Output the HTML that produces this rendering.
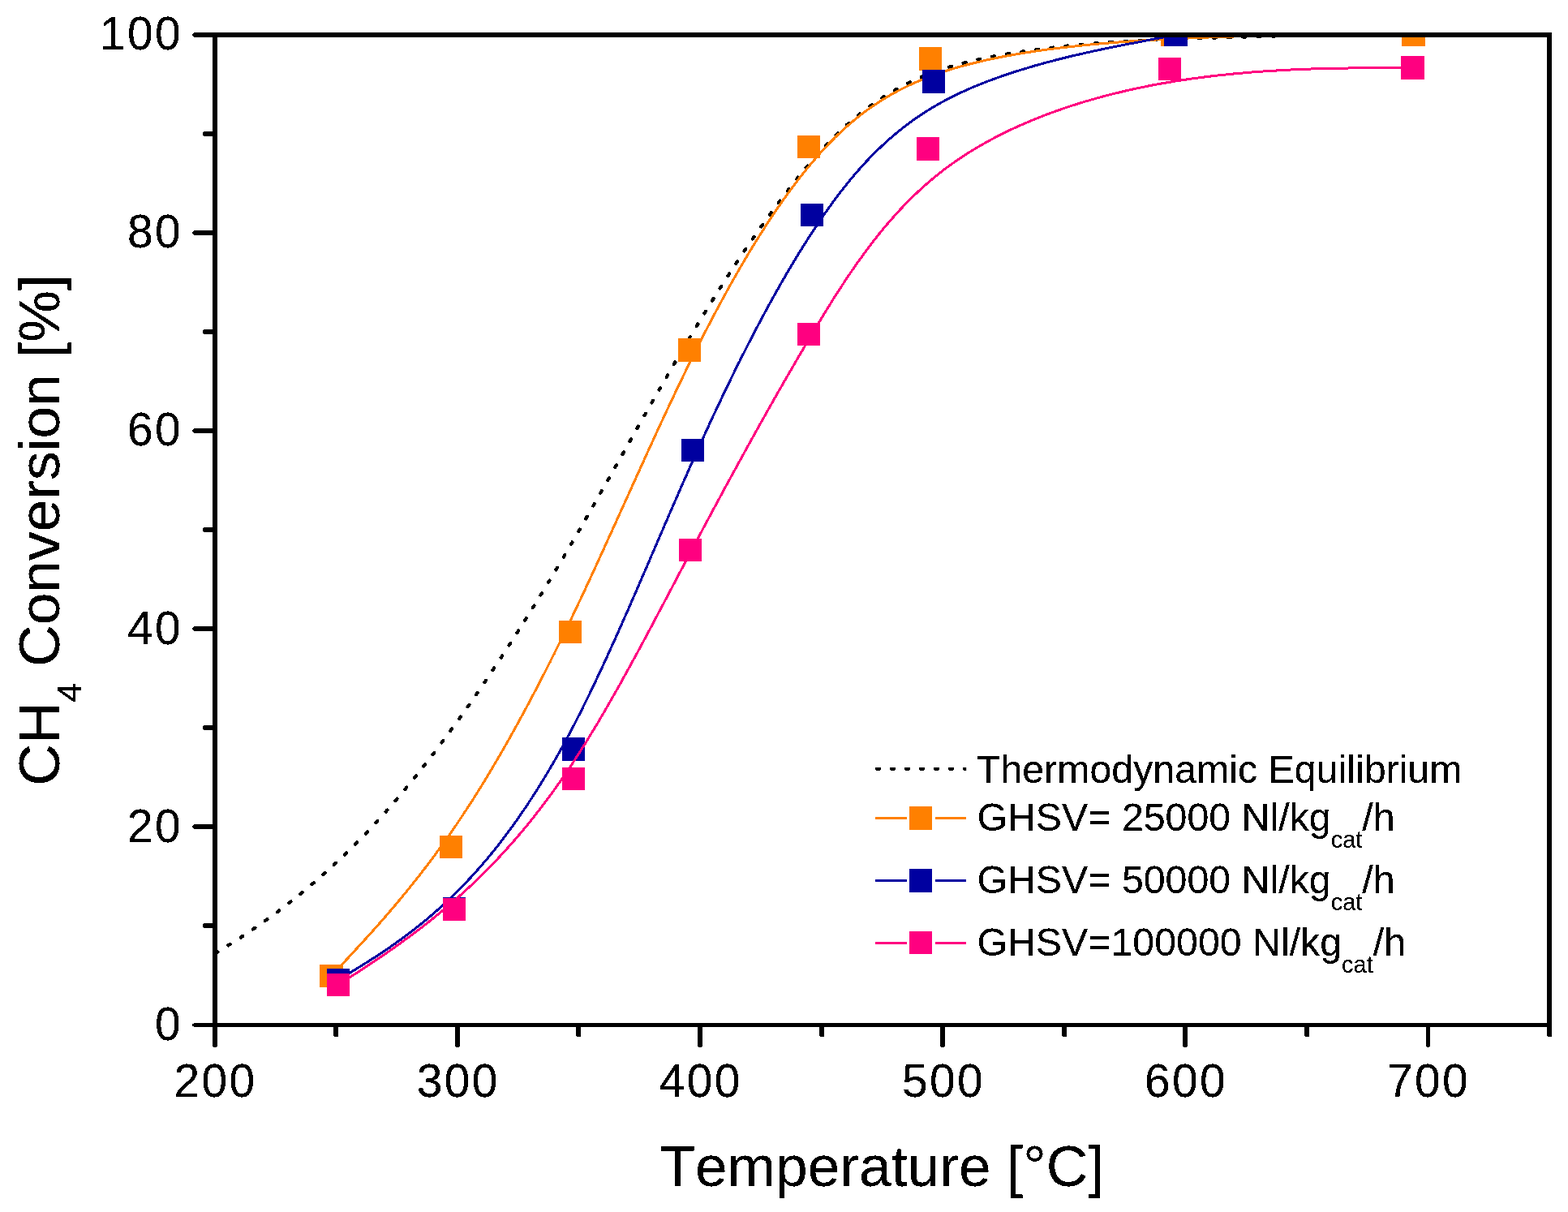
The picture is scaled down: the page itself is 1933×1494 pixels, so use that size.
<!DOCTYPE html>
<html lang="en"><head><meta charset="utf-8"><title>CH4 Conversion vs Temperature</title>
<style>
html,body{margin:0;padding:0;background:#fff;}
body{width:1933px;height:1494px;overflow:hidden;}
svg{display:block;}
text{font-family:"Liberation Sans",Arial,Helvetica,sans-serif;fill:#000;font-kerning:none;font-variant-ligatures:none;}
.tick{font-size:56.9px;letter-spacing:2.35px;}
.title{font-size:71.3px;}
.leg{font-size:48.3px;}
.ax{stroke:#000;stroke-width:6;fill:none;}
.tk{stroke:#000;stroke-width:6;stroke-linecap:round;fill:none;}
.ln{fill:none;stroke-width:3;stroke-linejoin:round;}
</style></head><body>
<svg width="1933" height="1494" viewBox="0 0 1933 1494" shape-rendering="crispEdges">
<rect x="0" y="0" width="1933" height="1494" fill="#fff"/>
<defs><filter id="al" filterUnits="userSpaceOnUse" x="0" y="0" width="1933" height="1494" color-interpolation-filters="sRGB"><feComponentTransfer><feFuncA type="discrete" tableValues="0 0 1 1 1"/></feComponentTransfer></filter><clipPath id="lg"><rect x="1078" y="940" width="113.2" height="16"/></clipPath><clipPath id="plot"><rect x="265" y="43" width="1645" height="1220.5"/></clipPath></defs>
<g clip-path="url(#plot)">
<path d="M265.0,1175.3 L267.3,1174.0 L269.5,1172.6 L271.8,1171.2 L274.0,1169.9 L276.3,1168.5 L278.6,1167.1 L280.8,1165.7 L283.1,1164.2 L285.4,1162.8 L287.6,1161.4 L289.9,1159.9 L292.1,1158.5 L294.4,1157.0 L296.7,1155.6 L298.9,1154.1 L301.2,1152.6 L303.5,1151.1 L305.7,1149.6 L308.0,1148.1 L310.2,1146.6 L312.5,1145.0 L314.8,1143.5 L317.0,1141.9 L319.3,1140.4 L321.6,1138.8 L323.8,1137.2 L326.1,1135.6 L328.3,1134.0 L330.6,1132.4 L332.9,1130.7 L335.1,1129.1 L337.4,1127.4 L339.6,1125.8 L341.9,1124.1 L344.2,1122.4 L346.4,1120.7 L348.7,1119.0 L351.0,1117.3 L353.2,1115.5 L355.5,1113.8 L357.7,1112.0 L360.0,1110.3 L362.3,1108.5 L364.5,1106.7 L366.8,1104.9 L369.1,1103.1 L371.3,1101.2 L373.6,1099.4 L375.8,1097.5 L378.1,1095.6 L380.4,1093.7 L382.6,1091.8 L384.9,1089.9 L387.2,1088.0 L389.4,1086.1 L391.7,1084.1 L393.9,1082.1 L396.2,1080.1 L398.5,1078.1 L400.7,1076.1 L403.0,1074.1 L405.3,1072.1 L407.5,1070.0 L409.8,1067.9 L412.0,1065.8 L414.3,1063.7 L416.6,1061.6 L418.8,1059.5 L421.1,1057.3 L423.3,1055.2 L425.6,1053.0 L427.9,1050.8 L430.1,1048.6 L432.4,1046.4 L434.7,1044.1 L436.9,1041.9 L439.2,1039.6 L441.4,1037.3 L443.7,1035.0 L446.0,1032.6 L448.2,1030.3 L450.5,1027.9 L452.8,1025.6 L455.0,1023.2 L457.3,1020.8 L459.5,1018.3 L461.8,1015.9 L464.1,1013.4 L466.3,1010.9 L468.6,1008.4 L470.9,1005.9 L473.1,1003.4 L475.4,1000.8 L477.6,998.3 L479.9,995.7 L482.2,993.1 L484.4,990.5 L486.7,987.9 L488.9,985.2 L491.2,982.6 L493.5,979.9 L495.7,977.2 L498.0,974.5 L500.3,971.8 L502.5,969.0 L504.8,966.3 L507.0,963.5 L509.3,960.7 L511.6,957.9 L513.8,955.1 L516.1,952.3 L518.4,949.4 L520.6,946.6 L522.9,943.7 L525.1,940.8 L527.4,937.9 L529.7,935.0 L531.9,932.0 L534.2,929.1 L536.5,926.1 L538.7,923.1 L541.0,920.1 L543.2,917.1 L545.5,914.1 L547.8,911.1 L550.0,908.0 L552.3,905.0 L554.5,901.9 L556.8,898.8 L559.1,895.7 L561.3,892.6 L563.6,889.4 L565.9,886.3 L568.1,883.1 L570.4,879.9 L572.6,876.8 L574.9,873.6 L577.2,870.3 L579.4,867.1 L581.7,863.9 L584.0,860.6 L586.2,857.4 L588.5,854.1 L590.7,850.8 L593.0,847.5 L595.3,844.2 L597.5,840.8 L599.8,837.5 L602.1,834.1 L604.3,830.8 L606.6,827.4 L608.8,824.0 L611.1,820.6 L613.4,817.2 L615.6,813.7 L617.9,810.3 L620.2,806.8 L622.4,803.4 L624.7,799.9 L626.9,796.4 L629.2,792.9 L631.5,789.4 L633.7,785.9 L636.0,782.3 L638.2,778.8 L640.5,775.2 L642.8,771.7 L645.0,768.1 L647.3,764.5 L649.6,760.9 L651.8,757.3 L654.1,753.6 L656.3,750.0 L658.6,746.3 L660.9,742.7 L663.1,739.0 L665.4,735.3 L667.7,731.6 L669.9,727.9 L672.2,724.2 L674.4,720.5 L676.7,716.8 L679.0,713.0 L681.2,709.3 L683.5,705.5 L685.8,701.7 L688.0,697.9 L690.3,694.1 L692.5,690.3 L694.8,686.5 L697.1,682.7 L699.3,678.8 L701.6,675.0 L703.8,671.1 L706.1,667.3 L708.4,663.4 L710.6,659.5 L712.9,655.6 L715.2,651.7 L717.4,647.8 L719.7,643.9 L721.9,640.0 L724.2,636.0 L726.5,632.1 L728.7,628.1 L731.0,624.2 L733.3,620.2 L735.5,616.3 L737.8,612.3 L740.0,608.3 L742.3,604.3 L744.6,600.3 L746.8,596.4 L749.1,592.4 L751.4,588.4 L753.6,584.4 L755.9,580.4 L758.1,576.4 L760.4,572.4 L762.7,568.4 L764.9,564.4 L767.2,560.4 L769.4,556.4 L771.7,552.4 L774.0,548.4 L776.2,544.4 L778.5,540.4 L780.8,536.4 L783.0,532.4 L785.3,528.4 L787.5,524.4 L789.8,520.4 L792.1,516.4 L794.3,512.4 L796.6,508.5 L798.9,504.5 L801.1,500.5 L803.4,496.6 L805.6,492.6 L807.9,488.7 L810.2,484.7 L812.4,480.8 L814.7,476.9 L817.0,472.9 L819.2,469.0 L821.5,465.1 L823.7,461.2 L826.0,457.3 L828.3,453.4 L830.5,449.6 L832.8,445.7 L835.1,441.8 L837.3,438.0 L839.6,434.2 L841.8,430.3 L844.1,426.5 L846.4,422.7 L848.6,418.9 L850.9,415.1 L853.1,411.4 L855.4,407.6 L857.7,403.8 L859.9,400.1 L862.2,396.4 L864.5,392.7 L866.7,389.0 L869.0,385.3 L871.2,381.6 L873.5,377.9 L875.8,374.3 L878.0,370.7 L880.3,367.0 L882.6,363.4 L884.8,359.8 L887.1,356.3 L889.3,352.7 L891.6,349.2 L893.9,345.6 L896.1,342.1 L898.4,338.6 L900.7,335.1 L902.9,331.7 L905.2,328.2 L907.4,324.8 L909.7,321.3 L912.0,317.9 L914.2,314.5 L916.5,311.2 L918.7,307.8 L921.0,304.5 L923.3,301.1 L925.5,297.8 L927.8,294.5 L930.1,291.3 L932.3,288.0 L934.6,284.8 L936.8,281.5 L939.1,278.3 L941.4,275.1 L943.6,272.0 L945.9,268.8 L948.2,265.7 L950.4,262.6 L952.7,259.4 L954.9,256.4 L957.2,253.3 L959.5,250.2 L961.7,247.2 L964.0,244.2 L966.3,241.2 L968.5,238.2 L970.8,235.3 L973.0,232.4 L975.3,229.5 L977.6,226.6 L979.8,223.7 L982.1,220.9 L984.3,218.1 L986.6,215.3 L988.9,212.5 L991.1,209.8 L993.4,207.1 L995.7,204.4 L997.9,201.7 L1000.2,199.1 L1002.4,196.5 L1004.7,193.9 L1007.0,191.4 L1009.2,188.8 L1011.5,186.3 L1013.8,183.9 L1016.0,181.4 L1018.3,179.0 L1020.5,176.7 L1022.8,174.3 L1025.1,172.0 L1027.3,169.7 L1029.6,167.5 L1031.9,165.3 L1034.1,163.1 L1036.4,160.9 L1038.6,158.8 L1040.9,156.7 L1043.2,154.7 L1045.4,152.7 L1047.7,150.7 L1049.9,148.7 L1052.2,146.8 L1054.5,144.9 L1056.7,143.1 L1059.0,141.2 L1061.3,139.4 L1063.5,137.7 L1065.8,135.9 L1068.0,134.2 L1070.3,132.5 L1072.6,130.9 L1074.8,129.2 L1077.1,127.6 L1079.4,126.1 L1081.6,124.5 L1083.9,123.0 L1086.1,121.5 L1088.4,120.0 L1090.7,118.6 L1092.9,117.2 L1095.2,115.8 L1097.5,114.5 L1099.7,113.1 L1102.0,111.8 L1104.2,110.5 L1106.5,109.3 L1108.8,108.0 L1111.0,106.8 L1113.3,105.6 L1115.6,104.5 L1117.8,103.3 L1120.1,102.2 L1122.3,101.1 L1124.6,100.0 L1126.9,99.0 L1129.1,97.9 L1131.4,96.9 L1133.6,95.9 L1135.9,95.0 L1138.2,94.0 L1140.4,93.1 L1142.7,92.2 L1145.0,91.3 L1147.2,90.4 L1149.5,89.6 L1151.7,88.7 L1154.0,87.9 L1156.3,87.1 L1158.5,86.3 L1160.8,85.6 L1163.1,84.8 L1165.3,84.1 L1167.6,83.4 L1169.8,82.7 L1172.1,82.0 L1174.4,81.3 L1176.6,80.7 L1178.9,80.0 L1181.2,79.4 L1183.4,78.8 L1185.7,78.2 L1187.9,77.6 L1190.2,77.0 L1192.5,76.4 L1194.7,75.9 L1197.0,75.3 L1199.2,74.8 L1201.5,74.3 L1203.8,73.8 L1206.0,73.3 L1208.3,72.8 L1210.6,72.3 L1212.8,71.9 L1215.1,71.4 L1217.3,70.9 L1219.6,70.5 L1221.9,70.1 L1224.1,69.6 L1226.4,69.2 L1228.7,68.8 L1230.9,68.4 L1233.2,68.0 L1235.4,67.6 L1237.7,67.2 L1240.0,66.8 L1242.2,66.5 L1244.5,66.1 L1246.8,65.7 L1249.0,65.4 L1251.3,65.0 L1253.5,64.6 L1255.8,64.3 L1258.1,64.0 L1260.3,63.6 L1262.6,63.3 L1264.8,62.9 L1267.1,62.6 L1269.4,62.3 L1271.6,62.0 L1273.9,61.7 L1276.2,61.3 L1278.4,61.0 L1280.7,60.7 L1282.9,60.4 L1285.2,60.1 L1287.5,59.8 L1289.7,59.6 L1292.0,59.3 L1294.3,59.0 L1296.5,58.7 L1298.8,58.5 L1301.0,58.2 L1303.3,57.9 L1305.6,57.7 L1307.8,57.4 L1310.1,57.2 L1312.4,56.9 L1314.6,56.7 L1316.9,56.4 L1319.1,56.2 L1321.4,56.0 L1323.7,55.7 L1325.9,55.5 L1328.2,55.3 L1330.5,55.1 L1332.7,54.9 L1335.0,54.7 L1337.2,54.4 L1339.5,54.2 L1341.8,54.0 L1344.0,53.8 L1346.3,53.7 L1348.5,53.5 L1350.8,53.3 L1353.1,53.1 L1355.3,52.9 L1357.6,52.8 L1359.9,52.6 L1362.1,52.4 L1364.4,52.2 L1366.6,52.1 L1368.9,51.9 L1371.2,51.8 L1373.4,51.6 L1375.7,51.5 L1378.0,51.3 L1380.2,51.2 L1382.5,51.0 L1384.7,50.9 L1387.0,50.8 L1389.3,50.6 L1391.5,50.5 L1393.8,50.4 L1396.1,50.3 L1398.3,50.1 L1400.6,50.0 L1402.8,49.9 L1405.1,49.8 L1407.4,49.7 L1409.6,49.6 L1411.9,49.5 L1414.1,49.4 L1416.4,49.2 L1418.7,49.1 L1420.9,49.0 L1423.2,49.0 L1425.5,48.9 L1427.7,48.8 L1430.0,48.7 L1432.2,48.6 L1434.5,48.5 L1436.8,48.4 L1439.0,48.3 L1441.3,48.2 L1443.6,48.2 L1445.8,48.1 L1448.1,48.0 L1450.3,47.9 L1452.6,47.8 L1454.9,47.8 L1457.1,47.7 L1459.4,47.6 L1461.7,47.6 L1463.9,47.5 L1466.2,47.4 L1468.4,47.3 L1470.7,47.3 L1473.0,47.2 L1475.2,47.1 L1477.5,47.1 L1479.7,47.0 L1482.0,47.0 L1484.3,46.9 L1486.5,46.8 L1488.8,46.8 L1491.1,46.7 L1493.3,46.6 L1495.6,46.6 L1497.8,46.5 L1500.1,46.5 L1502.4,46.4 L1504.6,46.4 L1506.9,46.3 L1509.2,46.2 L1511.4,46.2 L1513.7,46.1 L1515.9,46.1 L1518.2,46.0 L1520.5,45.9 L1522.7,45.9 L1525.0,45.8 L1527.3,45.8 L1529.5,45.7 L1531.8,45.6 L1534.0,45.6 L1536.3,45.5 L1538.6,45.5 L1540.8,45.4 L1543.1,45.3 L1545.4,45.3 L1547.6,45.2 L1549.9,45.1 L1552.1,45.1 L1554.4,45.0 L1556.7,44.9 L1558.9,44.9 L1561.2,44.8 L1563.4,44.7 L1565.7,44.7 L1568.0,44.6 L1570.2,44.5 L1572.5,44.4 L1574.8,44.4 L1577.0,44.3 L1579.3,44.2 L1581.5,44.1 L1583.8,44.1 L1586.1,44.0 L1588.3,43.9 L1590.6,43.8 L1592.9,43.7 L1595.1,43.6 L1597.4,43.5 L1599.6,43.4 L1601.9,43.3 L1604.2,43.2 L1606.4,43.1 L1608.7,43.0 L1611.0,42.9 L1613.2,42.8 L1615.5,42.7 L1617.7,42.6 L1620.0,42.5" fill="none" stroke="#000" stroke-width="4.2" stroke-linecap="round" stroke-dasharray="3 15.26" stroke-dashoffset="-0.84"/>
<path class="ln" d="M408.5,1203.0 L408.5,1203.0 L408.5,1203.0 L408.5,1203.0 L408.5,1203.0 L408.5,1203.0 L408.5,1203.0 L408.5,1202.9 L408.6,1202.9 L408.6,1202.9 L408.6,1202.8 L408.7,1202.8 L408.7,1202.7 L408.8,1202.7 L408.9,1202.6 L409.0,1202.5 L409.1,1202.4 L409.2,1202.2 L409.3,1202.1 L409.5,1201.9 L409.7,1201.8 L409.8,1201.6 L410.0,1201.3 L410.3,1201.1 L410.5,1200.9 L410.8,1200.6 L411.0,1200.3 L411.3,1199.9 L411.7,1199.6 L412.0,1199.2 L412.4,1198.8 L412.8,1198.4 L413.2,1197.9 L413.7,1197.4 L414.2,1196.9 L414.7,1196.3 L415.2,1195.7 L415.8,1195.1 L416.4,1194.5 L417.1,1193.8 L417.7,1193.0 L418.4,1192.3 L419.2,1191.5 L420.0,1190.6 L420.8,1189.8 L421.6,1188.8 L422.5,1187.9 L423.5,1186.9 L424.5,1185.8 L425.5,1184.7 L426.5,1183.6 L427.6,1182.4 L428.8,1181.1 L430.0,1179.9 L431.2,1178.5 L432.5,1177.1 L433.8,1175.7 L435.2,1174.2 L436.6,1172.7 L438.1,1171.1 L439.6,1169.4 L441.2,1167.7 L442.8,1166.0 L444.4,1164.2 L446.1,1162.4 L447.9,1160.5 L449.6,1158.5 L451.4,1156.6 L453.3,1154.5 L455.2,1152.4 L457.1,1150.3 L459.0,1148.1 L461.0,1145.9 L463.0,1143.6 L465.1,1141.3 L467.2,1139.0 L469.3,1136.5 L471.5,1134.1 L473.6,1131.6 L475.8,1129.1 L478.1,1126.5 L480.3,1123.8 L482.6,1121.2 L484.9,1118.4 L487.3,1115.7 L489.6,1112.9 L492.0,1110.0 L494.4,1107.1 L496.8,1104.2 L499.3,1101.2 L501.7,1098.2 L504.2,1095.2 L506.7,1092.1 L509.2,1088.9 L511.7,1085.7 L514.3,1082.5 L516.8,1079.3 L519.4,1076.0 L522.0,1072.6 L524.6,1069.3 L527.2,1065.9 L529.8,1062.4 L532.4,1058.9 L535.0,1055.4 L537.7,1051.8 L540.3,1048.2 L542.9,1044.6 L545.6,1040.9 L548.2,1037.2 L550.9,1033.5 L553.6,1029.7 L556.2,1025.9 L558.9,1022.1 L561.5,1018.2 L564.2,1014.3 L566.8,1010.3 L569.5,1006.3 L572.1,1002.3 L574.8,998.3 L577.5,994.2 L580.1,990.1 L582.8,985.9 L585.4,981.8 L588.1,977.5 L590.7,973.3 L593.4,969.0 L596.0,964.7 L598.7,960.4 L601.3,956.0 L604.0,951.6 L606.6,947.1 L609.3,942.6 L612.0,938.1 L614.6,933.6 L617.3,929.0 L619.9,924.4 L622.6,919.8 L625.2,915.1 L627.9,910.5 L630.5,905.7 L633.2,901.0 L635.8,896.2 L638.5,891.4 L641.1,886.5 L643.8,881.7 L646.4,876.8 L649.1,871.8 L651.7,866.9 L654.4,861.9 L657.0,856.8 L659.7,851.8 L662.3,846.7 L665.0,841.6 L667.6,836.5 L670.3,831.3 L673.0,826.1 L675.6,820.9 L678.3,815.6 L680.9,810.3 L683.6,805.0 L686.2,799.7 L688.9,794.3 L691.5,788.9 L694.2,783.5 L696.8,778.1 L699.5,772.6 L702.1,767.1 L704.8,761.6 L707.4,756.0 L710.1,750.4 L712.7,744.8 L715.4,739.2 L718.0,733.6 L720.7,727.9 L723.3,722.2 L726.0,716.5 L728.6,710.8 L731.3,705.0 L733.9,699.3 L736.6,693.5 L739.2,687.7 L741.9,681.9 L744.5,676.1 L747.2,670.3 L749.8,664.4 L752.5,658.6 L755.1,652.8 L757.8,646.9 L760.4,641.1 L763.1,635.2 L765.7,629.3 L768.4,623.5 L771.1,617.6 L773.7,611.7 L776.4,605.9 L779.0,600.0 L781.7,594.2 L784.3,588.3 L787.0,582.5 L789.6,576.6 L792.3,570.8 L794.9,565.0 L797.6,559.1 L800.2,553.3 L802.9,547.5 L805.5,541.8 L808.2,536.0 L810.8,530.2 L813.5,524.5 L816.1,518.8 L818.8,513.1 L821.4,507.4 L824.1,501.7 L826.7,496.1 L829.4,490.5 L832.0,484.9 L834.7,479.3 L837.3,473.8 L840.0,468.3 L842.6,462.8 L845.3,457.3 L847.9,451.9 L850.6,446.5 L853.2,441.1 L855.9,435.8 L858.5,430.5 L861.2,425.2 L863.8,419.9 L866.5,414.7 L869.1,409.6 L871.8,404.4 L874.5,399.3 L877.1,394.2 L879.8,389.2 L882.4,384.2 L885.1,379.2 L887.7,374.3 L890.4,369.4 L893.0,364.5 L895.7,359.7 L898.3,354.9 L901.0,350.1 L903.6,345.4 L906.3,340.7 L909.0,336.1 L911.6,331.5 L914.3,326.9 L916.9,322.4 L919.6,317.9 L922.2,313.4 L924.9,309.0 L927.6,304.6 L930.2,300.3 L932.9,296.0 L935.5,291.8 L938.2,287.5 L940.9,283.4 L943.5,279.2 L946.2,275.1 L948.8,271.1 L951.5,267.0 L954.2,263.1 L956.8,259.1 L959.5,255.3 L962.2,251.4 L964.8,247.6 L967.5,243.8 L970.2,240.1 L972.8,236.5 L975.5,232.8 L978.2,229.2 L980.9,225.7 L983.5,222.2 L986.2,218.7 L988.9,215.3 L991.6,212.0 L994.2,208.7 L996.9,205.4 L999.6,202.2 L1002.3,199.0 L1004.9,195.9 L1007.6,192.8 L1010.3,189.7 L1013.0,186.7 L1015.7,183.8 L1018.4,180.9 L1021.1,178.0 L1023.9,175.2 L1026.6,172.4 L1029.3,169.6 L1032.1,166.9 L1034.9,164.3 L1037.6,161.7 L1040.4,159.1 L1043.2,156.6 L1046.1,154.1 L1048.9,151.6 L1051.8,149.2 L1054.6,146.8 L1057.5,144.5 L1060.4,142.2 L1063.4,139.9 L1066.3,137.7 L1069.3,135.5 L1072.3,133.4 L1075.3,131.2 L1078.4,129.2 L1081.4,127.1 L1084.5,125.1 L1087.7,123.1 L1090.8,121.2 L1094.0,119.3 L1097.2,117.4 L1100.4,115.6 L1103.7,113.8 L1107.0,112.0 L1110.4,110.3 L1113.7,108.6 L1117.1,106.9 L1120.6,105.2 L1124.1,103.6 L1127.6,102.0 L1131.1,100.5 L1134.7,99.0 L1138.4,97.5 L1142.0,96.0 L1145.8,94.6 L1149.5,93.1 L1153.3,91.8 L1157.2,90.4 L1161.1,89.1 L1165.0,87.8 L1169.0,86.5 L1173.0,85.3 L1177.1,84.0 L1181.2,82.8 L1185.4,81.7 L1189.6,80.5 L1193.9,79.4 L1198.2,78.3 L1202.5,77.2 L1206.9,76.2 L1211.4,75.1 L1215.8,74.1 L1220.3,73.1 L1224.9,72.2 L1229.5,71.2 L1234.1,70.3 L1238.8,69.4 L1243.4,68.6 L1248.2,67.7 L1252.9,66.9 L1257.7,66.1 L1262.5,65.3 L1267.4,64.5 L1272.3,63.7 L1277.2,63.0 L1282.1,62.3 L1287.1,61.6 L1292.1,60.9 L1297.1,60.3 L1302.2,59.6 L1307.2,59.0 L1312.3,58.4 L1317.4,57.8 L1322.6,57.2 L1327.7,56.7 L1332.9,56.1 L1338.1,55.6 L1343.3,55.1 L1348.5,54.6 L1353.7,54.1 L1359.0,53.7 L1364.2,53.2 L1369.5,52.8 L1374.8,52.3 L1380.1,51.9 L1385.4,51.5 L1390.8,51.1 L1396.1,50.8 L1401.4,50.4 L1406.8,50.1 L1412.1,49.7 L1417.5,49.4 L1422.8,49.1 L1428.2,48.8 L1433.6,48.5 L1438.9,48.2 L1444.3,47.9 L1449.7,47.7 L1455.1,47.4 L1460.4,47.2 L1465.8,47.0 L1471.1,46.7 L1476.5,46.5 L1481.8,46.3 L1487.1,46.1 L1492.4,45.9 L1497.7,45.7 L1503.0,45.6 L1508.3,45.4 L1513.5,45.2 L1518.7,45.1 L1523.9,44.9 L1529.1,44.8 L1534.2,44.7 L1539.3,44.5 L1544.4,44.4 L1549.4,44.3 L1554.4,44.2 L1559.4,44.1 L1564.3,44.0 L1569.2,43.9 L1574.0,43.8 L1578.9,43.7 L1583.6,43.7 L1588.3,43.6 L1593.0,43.5 L1597.6,43.5 L1602.2,43.4 L1606.7,43.4 L1611.1,43.3 L1615.5,43.3 L1619.8,43.3 L1624.1,43.2 L1628.3,43.2 L1632.5,43.2 L1636.6,43.1 L1640.6,43.1 L1644.5,43.1 L1648.4,43.1 L1652.2,43.1 L1655.9,43.0 L1659.5,43.0 L1663.1,43.0 L1666.6,43.0 L1670.0,43.0 L1673.3,43.0 L1676.6,43.0 L1679.7,43.0 L1682.8,43.0 L1685.7,43.0 L1688.6,43.0 L1691.4,43.0 L1694.1,43.0 L1696.7,43.0 L1699.2,43.0 L1701.6,43.0 L1703.9,43.0 L1706.1,43.0 L1708.3,43.0 L1710.3,43.0 L1712.3,43.0 L1714.2,43.0 L1716.0,43.0 L1717.7,43.0 L1719.4,43.0 L1720.9,43.0 L1722.5,43.0 L1723.9,43.0 L1725.2,43.0 L1726.5,43.0 L1727.8,43.0 L1728.9,43.0 L1730.0,43.0 L1731.1,43.0 L1732.0,43.0 L1733.0,43.0 L1733.8,43.0 L1734.6,43.0 L1735.4,43.0 L1736.1,43.0 L1736.8,43.0 L1737.4,43.0 L1738.0,43.0 L1738.5,43.0 L1739.0,43.0 L1739.4,43.0 L1739.8,43.0 L1740.2,43.0 L1740.5,43.0 L1740.8,43.0 L1741.1,43.0 L1741.3,43.0 L1741.5,43.0 L1741.7,43.0 L1741.9,43.0 L1742.0,43.0 L1742.1,43.0 L1742.2,43.0 L1742.3,43.0 L1742.4,43.0 L1742.4,43.0 L1742.4,43.0 L1742.5,43.0 L1742.5,43.0 L1742.5,43.0 L1742.5,43.0 L1742.5,43.0 L1742.5,43.0" stroke="#FF8000"/>
<rect x="394" y="1189" width="29" height="28" fill="#FF8000"/>
<rect x="542" y="1030" width="28" height="28" fill="#FF8000"/>
<rect x="689" y="765" width="28" height="28" fill="#FF8000"/>
<rect x="836" y="417" width="28" height="29" fill="#FF8000"/>
<rect x="983" y="167" width="28" height="28" fill="#FF8000"/>
<rect x="1133" y="58" width="28" height="29" fill="#FF8000"/>
<rect x="1431" y="29" width="28" height="28" fill="#FF8000"/>
<rect x="1728" y="29" width="29" height="28" fill="#FF8000"/>
<path class="ln" d="M417.0,1208.0 L417.0,1208.0 L417.0,1208.0 L417.0,1208.0 L417.0,1208.0 L417.0,1208.0 L417.0,1208.0 L417.0,1208.0 L417.1,1208.0 L417.1,1208.0 L417.1,1207.9 L417.1,1207.9 L417.2,1207.9 L417.2,1207.9 L417.3,1207.8 L417.3,1207.8 L417.4,1207.8 L417.5,1207.7 L417.6,1207.6 L417.7,1207.6 L417.8,1207.5 L417.9,1207.4 L418.0,1207.4 L418.2,1207.3 L418.4,1207.2 L418.5,1207.1 L418.7,1206.9 L418.9,1206.8 L419.2,1206.7 L419.4,1206.5 L419.7,1206.4 L419.9,1206.2 L420.2,1206.0 L420.5,1205.8 L420.9,1205.6 L421.2,1205.4 L421.6,1205.2 L422.0,1204.9 L422.4,1204.7 L422.8,1204.4 L423.3,1204.1 L423.8,1203.8 L424.3,1203.5 L424.8,1203.2 L425.4,1202.9 L425.9,1202.5 L426.6,1202.1 L427.2,1201.7 L427.9,1201.3 L428.6,1200.9 L429.3,1200.4 L430.0,1200.0 L430.8,1199.5 L431.6,1199.0 L432.5,1198.5 L433.3,1197.9 L434.2,1197.4 L435.2,1196.8 L436.2,1196.2 L437.2,1195.6 L438.2,1194.9 L439.3,1194.3 L440.4,1193.6 L441.6,1192.9 L442.7,1192.2 L444.0,1191.4 L445.2,1190.6 L446.5,1189.8 L447.8,1189.0 L449.2,1188.2 L450.6,1187.3 L452.0,1186.4 L453.5,1185.5 L455.0,1184.5 L456.5,1183.6 L458.0,1182.6 L459.6,1181.6 L461.2,1180.6 L462.9,1179.5 L464.5,1178.4 L466.2,1177.3 L467.9,1176.2 L469.7,1175.0 L471.5,1173.8 L473.3,1172.6 L475.1,1171.4 L476.9,1170.2 L478.8,1168.9 L480.7,1167.6 L482.6,1166.3 L484.5,1164.9 L486.5,1163.5 L488.4,1162.1 L490.4,1160.7 L492.4,1159.3 L494.5,1157.8 L496.5,1156.3 L498.6,1154.8 L500.7,1153.2 L502.8,1151.6 L504.9,1150.0 L507.0,1148.4 L509.2,1146.7 L511.3,1145.1 L513.5,1143.4 L515.7,1141.6 L517.9,1139.9 L520.1,1138.1 L522.3,1136.3 L524.6,1134.4 L526.8,1132.6 L529.0,1130.7 L531.3,1128.8 L533.6,1126.8 L535.9,1124.8 L538.1,1122.8 L540.4,1120.8 L542.7,1118.8 L545.0,1116.7 L547.3,1114.6 L549.6,1112.4 L552.0,1110.3 L554.3,1108.1 L556.6,1105.9 L558.9,1103.6 L561.2,1101.3 L563.6,1099.0 L565.9,1096.7 L568.2,1094.4 L570.6,1092.0 L572.9,1089.6 L575.2,1087.1 L577.5,1084.6 L579.9,1082.1 L582.2,1079.6 L584.5,1077.0 L586.9,1074.4 L589.2,1071.8 L591.6,1069.1 L593.9,1066.5 L596.2,1063.7 L598.6,1061.0 L600.9,1058.2 L603.2,1055.4 L605.6,1052.5 L607.9,1049.7 L610.3,1046.7 L612.6,1043.8 L615.0,1040.8 L617.3,1037.8 L619.6,1034.7 L622.0,1031.7 L624.3,1028.5 L626.7,1025.4 L629.0,1022.2 L631.4,1019.0 L633.7,1015.7 L636.1,1012.4 L638.4,1009.1 L640.8,1005.7 L643.1,1002.3 L645.5,998.8 L647.8,995.4 L650.2,991.8 L652.5,988.3 L654.9,984.7 L657.2,981.1 L659.6,977.4 L661.9,973.7 L664.3,969.9 L666.7,966.1 L669.0,962.3 L671.4,958.4 L673.7,954.5 L676.1,950.6 L678.4,946.6 L680.8,942.5 L683.1,938.5 L685.5,934.4 L687.9,930.2 L690.2,926.0 L692.6,921.8 L694.9,917.5 L697.3,913.1 L699.6,908.8 L702.0,904.4 L704.3,899.9 L706.7,895.4 L709.1,890.9 L711.4,886.3 L713.8,881.6 L716.1,877.0 L718.5,872.2 L720.8,867.5 L723.2,862.7 L725.6,857.9 L727.9,853.0 L730.3,848.1 L732.6,843.2 L735.0,838.2 L737.3,833.2 L739.7,828.2 L742.1,823.1 L744.4,818.1 L746.8,812.9 L749.1,807.8 L751.5,802.6 L753.8,797.4 L756.2,792.2 L758.6,787.0 L760.9,781.7 L763.3,776.4 L765.6,771.1 L768.0,765.8 L770.3,760.5 L772.7,755.1 L775.1,749.8 L777.4,744.4 L779.8,739.0 L782.1,733.6 L784.5,728.2 L786.8,722.7 L789.2,717.3 L791.5,711.8 L793.9,706.4 L796.3,700.9 L798.6,695.5 L801.0,690.0 L803.3,684.5 L805.7,679.1 L808.0,673.6 L810.4,668.1 L812.8,662.6 L815.1,657.2 L817.5,651.7 L819.8,646.2 L822.2,640.8 L824.5,635.3 L826.9,629.9 L829.3,624.4 L831.6,619.0 L834.0,613.6 L836.3,608.2 L838.7,602.8 L841.0,597.4 L843.4,592.0 L845.8,586.7 L848.1,581.3 L850.5,576.0 L852.8,570.7 L855.2,565.4 L857.5,560.2 L859.9,555.0 L862.2,549.7 L864.6,544.5 L867.0,539.4 L869.3,534.2 L871.7,529.1 L874.0,524.0 L876.4,518.9 L878.7,513.8 L881.1,508.8 L883.5,503.7 L885.8,498.7 L888.2,493.8 L890.5,488.8 L892.9,483.9 L895.3,479.0 L897.6,474.1 L900.0,469.2 L902.3,464.4 L904.7,459.6 L907.0,454.8 L909.4,450.0 L911.8,445.3 L914.1,440.6 L916.5,435.9 L918.9,431.2 L921.2,426.6 L923.6,422.0 L925.9,417.4 L928.3,412.8 L930.7,408.3 L933.0,403.8 L935.4,399.3 L937.8,394.9 L940.1,390.4 L942.5,386.0 L944.9,381.7 L947.2,377.3 L949.6,373.0 L952.0,368.7 L954.3,364.4 L956.7,360.2 L959.1,356.0 L961.4,351.8 L963.8,347.7 L966.2,343.6 L968.5,339.5 L970.9,335.4 L973.3,331.4 L975.7,327.4 L978.0,323.4 L980.4,319.5 L982.8,315.6 L985.1,311.7 L987.5,307.9 L989.9,304.1 L992.3,300.3 L994.7,296.5 L997.0,292.8 L999.4,289.1 L1001.8,285.5 L1004.2,281.8 L1006.6,278.2 L1008.9,274.7 L1011.3,271.2 L1013.7,267.7 L1016.1,264.2 L1018.5,260.8 L1020.9,257.4 L1023.3,254.0 L1025.7,250.7 L1028.2,247.4 L1030.6,244.1 L1033.0,240.8 L1035.5,237.6 L1037.9,234.5 L1040.4,231.3 L1042.9,228.2 L1045.4,225.1 L1047.9,222.0 L1050.4,219.0 L1052.9,216.0 L1055.4,213.1 L1058.0,210.1 L1060.6,207.2 L1063.1,204.4 L1065.7,201.5 L1068.4,198.7 L1071.0,195.9 L1073.6,193.2 L1076.3,190.5 L1079.0,187.8 L1081.7,185.1 L1084.4,182.5 L1087.2,179.9 L1089.9,177.3 L1092.7,174.8 L1095.5,172.2 L1098.4,169.8 L1101.2,167.3 L1104.1,164.9 L1107.0,162.5 L1109.9,160.1 L1112.9,157.8 L1115.9,155.5 L1118.9,153.2 L1121.9,150.9 L1125.0,148.7 L1128.1,146.5 L1131.2,144.4 L1134.4,142.2 L1137.6,140.1 L1140.8,138.0 L1144.0,136.0 L1147.3,134.0 L1150.6,132.0 L1154.0,130.0 L1157.4,128.1 L1160.8,126.1 L1164.3,124.3 L1167.8,122.4 L1171.3,120.6 L1174.9,118.8 L1178.5,117.0 L1182.1,115.3 L1185.8,113.5 L1189.5,111.9 L1193.2,110.2 L1197.0,108.5 L1200.8,106.9 L1204.6,105.4 L1208.5,103.8 L1212.3,102.3 L1216.2,100.7 L1220.1,99.3 L1224.1,97.8 L1228.0,96.4 L1231.9,95.0 L1235.9,93.6 L1239.9,92.2 L1243.9,90.9 L1247.8,89.6 L1251.8,88.3 L1255.8,87.0 L1259.8,85.8 L1263.8,84.6 L1267.8,83.4 L1271.8,82.2 L1275.7,81.0 L1279.7,79.9 L1283.7,78.8 L1287.6,77.7 L1291.5,76.7 L1295.4,75.6 L1299.3,74.6 L1303.2,73.6 L1307.0,72.6 L1310.8,71.7 L1314.6,70.7 L1318.4,69.8 L1322.1,68.9 L1325.9,68.0 L1329.5,67.2 L1333.2,66.4 L1336.8,65.5 L1340.3,64.7 L1343.9,64.0 L1347.3,63.2 L1350.8,62.4 L1354.2,61.7 L1357.5,61.0 L1360.8,60.3 L1364.0,59.6 L1367.2,59.0 L1370.4,58.4 L1373.4,57.7 L1376.5,57.1 L1379.4,56.5 L1382.3,56.0 L1385.1,55.4 L1387.9,54.9 L1390.6,54.4 L1393.2,53.8 L1395.8,53.4 L1398.2,52.9 L1400.6,52.4 L1403.0,52.0 L1405.2,51.5 L1407.4,51.1 L1409.5,50.7 L1411.5,50.3 L1413.5,49.9 L1415.4,49.6 L1417.2,49.2 L1419.0,48.9 L1420.7,48.6 L1422.3,48.2 L1423.9,47.9 L1425.4,47.6 L1426.8,47.4 L1428.2,47.1 L1429.5,46.8 L1430.8,46.6 L1432.0,46.4 L1433.2,46.1 L1434.3,45.9 L1435.4,45.7 L1436.4,45.5 L1437.3,45.3 L1438.3,45.2 L1439.1,45.0 L1439.9,44.8 L1440.7,44.7 L1441.4,44.6 L1442.1,44.4 L1442.8,44.3 L1443.4,44.2 L1444.0,44.1 L1444.5,44.0 L1445.0,43.9 L1445.5,43.8 L1445.9,43.7 L1446.3,43.6 L1446.7,43.5 L1447.0,43.5 L1447.3,43.4 L1447.6,43.4 L1447.9,43.3 L1448.1,43.3 L1448.3,43.2 L1448.5,43.2 L1448.7,43.2 L1448.8,43.1 L1448.9,43.1 L1449.0,43.1 L1449.1,43.1 L1449.2,43.1 L1449.3,43.0 L1449.4,43.0 L1449.4,43.0 L1449.4,43.0 L1449.5,43.0 L1449.5,43.0 L1449.5,43.0 L1449.5,43.0 L1449.5,43.0 L1449.5,43.0 L1449.5,43.0" stroke="#0000A0"/>
<rect x="403" y="1194" width="28" height="28" fill="#0000A0"/>
<rect x="546" y="1106" width="28" height="28" fill="#0000A0"/>
<rect x="693" y="909" width="28" height="29" fill="#0000A0"/>
<rect x="840" y="541" width="28" height="28" fill="#0000A0"/>
<rect x="987" y="251" width="28" height="28" fill="#0000A0"/>
<rect x="1137" y="86" width="28" height="29" fill="#0000A0"/>
<rect x="1435" y="29" width="29" height="28" fill="#0000A0"/>
<path class="ln" d="M417.0,1214.0 L417.0,1214.0 L417.0,1214.0 L417.0,1214.0 L417.0,1214.0 L417.0,1214.0 L417.0,1214.0 L417.0,1214.0 L417.1,1214.0 L417.1,1213.9 L417.1,1213.9 L417.2,1213.9 L417.2,1213.8 L417.3,1213.8 L417.4,1213.8 L417.5,1213.7 L417.6,1213.6 L417.7,1213.6 L417.8,1213.5 L418.0,1213.4 L418.1,1213.3 L418.3,1213.2 L418.5,1213.0 L418.7,1212.9 L418.9,1212.7 L419.2,1212.6 L419.5,1212.4 L419.8,1212.2 L420.1,1212.0 L420.4,1211.8 L420.8,1211.5 L421.2,1211.3 L421.6,1211.0 L422.0,1210.7 L422.5,1210.4 L423.0,1210.1 L423.5,1209.8 L424.1,1209.4 L424.7,1209.0 L425.3,1208.6 L425.9,1208.2 L426.6,1207.7 L427.4,1207.3 L428.1,1206.8 L428.9,1206.3 L429.7,1205.7 L430.6,1205.1 L431.5,1204.6 L432.5,1203.9 L433.5,1203.3 L434.5,1202.6 L435.5,1201.9 L436.7,1201.2 L437.8,1200.5 L439.0,1199.7 L440.3,1198.9 L441.6,1198.0 L442.9,1197.2 L444.3,1196.3 L445.7,1195.3 L447.2,1194.4 L448.7,1193.4 L450.2,1192.4 L451.8,1191.3 L453.5,1190.2 L455.2,1189.1 L456.9,1188.0 L458.6,1186.8 L460.4,1185.6 L462.2,1184.4 L464.1,1183.2 L466.0,1181.9 L467.9,1180.6 L469.9,1179.2 L471.9,1177.9 L473.9,1176.5 L476.0,1175.1 L478.1,1173.6 L480.2,1172.2 L482.3,1170.7 L484.5,1169.1 L486.7,1167.6 L488.9,1166.0 L491.2,1164.4 L493.5,1162.8 L495.8,1161.1 L498.1,1159.4 L500.4,1157.7 L502.8,1156.0 L505.2,1154.2 L507.6,1152.5 L510.0,1150.7 L512.4,1148.8 L514.9,1147.0 L517.3,1145.1 L519.8,1143.2 L522.3,1141.2 L524.8,1139.3 L527.4,1137.3 L529.9,1135.3 L532.4,1133.3 L535.0,1131.2 L537.6,1129.1 L540.1,1127.0 L542.7,1124.9 L545.3,1122.8 L547.9,1120.6 L550.5,1118.4 L553.1,1116.2 L555.7,1114.0 L558.3,1111.7 L561.0,1109.4 L563.6,1107.1 L566.2,1104.8 L568.8,1102.4 L571.4,1100.1 L574.0,1097.7 L576.7,1095.2 L579.3,1092.8 L581.9,1090.3 L584.5,1087.8 L587.2,1085.3 L589.8,1082.8 L592.4,1080.2 L595.1,1077.6 L597.7,1075.0 L600.3,1072.3 L602.9,1069.7 L605.6,1067.0 L608.2,1064.2 L610.8,1061.5 L613.5,1058.7 L616.1,1055.9 L618.7,1053.1 L621.4,1050.2 L624.0,1047.3 L626.6,1044.4 L629.3,1041.4 L631.9,1038.4 L634.5,1035.4 L637.2,1032.3 L639.8,1029.3 L642.5,1026.1 L645.1,1023.0 L647.7,1019.8 L650.4,1016.6 L653.0,1013.4 L655.6,1010.1 L658.3,1006.8 L660.9,1003.4 L663.5,1000.1 L666.2,996.6 L668.8,993.2 L671.4,989.7 L674.1,986.2 L676.7,982.7 L679.3,979.1 L682.0,975.4 L684.6,971.8 L687.2,968.1 L689.9,964.4 L692.5,960.6 L695.1,956.8 L697.7,952.9 L700.4,949.0 L703.0,945.1 L705.6,941.2 L708.2,937.2 L710.9,933.1 L713.5,929.0 L716.1,924.9 L718.7,920.8 L721.4,916.6 L724.0,912.4 L726.6,908.1 L729.2,903.8 L731.8,899.5 L734.4,895.1 L737.1,890.8 L739.7,886.3 L742.3,881.9 L744.9,877.4 L747.5,872.9 L750.1,868.4 L752.7,863.9 L755.3,859.3 L758.0,854.7 L760.6,850.0 L763.2,845.4 L765.8,840.7 L768.4,836.0 L771.0,831.3 L773.6,826.6 L776.2,821.8 L778.8,817.1 L781.4,812.3 L784.1,807.5 L786.7,802.7 L789.3,797.8 L791.9,793.0 L794.5,788.1 L797.1,783.3 L799.7,778.4 L802.3,773.5 L804.9,768.6 L807.5,763.7 L810.1,758.8 L812.7,753.8 L815.4,748.9 L818.0,744.0 L820.6,739.0 L823.2,734.1 L825.8,729.1 L828.4,724.2 L831.0,719.2 L833.6,714.2 L836.2,709.3 L838.8,704.3 L841.5,699.4 L844.1,694.4 L846.7,689.5 L849.3,684.5 L851.9,679.6 L854.5,674.6 L857.1,669.7 L859.8,664.8 L862.4,659.8 L865.0,654.9 L867.6,650.0 L870.2,645.1 L872.9,640.2 L875.5,635.3 L878.1,630.4 L880.7,625.6 L883.3,620.7 L886.0,615.8 L888.6,611.0 L891.2,606.1 L893.8,601.3 L896.5,596.4 L899.1,591.6 L901.7,586.8 L904.3,582.0 L907.0,577.2 L909.6,572.4 L912.2,567.6 L914.9,562.8 L917.5,558.0 L920.1,553.2 L922.7,548.5 L925.4,543.7 L928.0,539.0 L930.6,534.3 L933.3,529.5 L935.9,524.8 L938.5,520.1 L941.2,515.4 L943.8,510.7 L946.4,506.1 L949.1,501.4 L951.7,496.8 L954.3,492.1 L957.0,487.5 L959.6,482.8 L962.3,478.2 L964.9,473.6 L967.5,469.0 L970.2,464.5 L972.8,459.9 L975.5,455.3 L978.1,450.8 L980.7,446.2 L983.4,441.7 L986.0,437.2 L988.7,432.7 L991.3,428.2 L993.9,423.7 L996.6,419.2 L999.2,414.8 L1001.9,410.3 L1004.5,405.9 L1007.2,401.5 L1009.8,397.1 L1012.5,392.7 L1015.1,388.3 L1017.8,384.0 L1020.5,379.6 L1023.2,375.3 L1025.8,371.0 L1028.5,366.7 L1031.3,362.5 L1034.0,358.2 L1036.7,354.0 L1039.5,349.8 L1042.2,345.6 L1045.0,341.4 L1047.8,337.3 L1050.6,333.1 L1053.5,329.0 L1056.3,325.0 L1059.2,320.9 L1062.1,316.9 L1065.0,312.9 L1067.9,308.9 L1070.9,304.9 L1073.8,301.0 L1076.8,297.1 L1079.9,293.3 L1082.9,289.4 L1086.0,285.6 L1089.1,281.8 L1092.3,278.1 L1095.4,274.3 L1098.6,270.7 L1101.9,267.0 L1105.1,263.4 L1108.4,259.8 L1111.8,256.2 L1115.1,252.7 L1118.5,249.2 L1122.0,245.7 L1125.5,242.3 L1129.0,238.9 L1132.5,235.6 L1136.1,232.3 L1139.8,229.0 L1143.5,225.7 L1147.2,222.5 L1151.0,219.4 L1154.8,216.3 L1158.6,213.2 L1162.5,210.1 L1166.5,207.1 L1170.5,204.2 L1174.6,201.3 L1178.7,198.4 L1182.8,195.6 L1187.0,192.8 L1191.2,190.0 L1195.5,187.3 L1199.9,184.7 L1204.2,182.0 L1208.6,179.5 L1213.1,176.9 L1217.6,174.4 L1222.1,172.0 L1226.7,169.5 L1231.3,167.1 L1235.9,164.8 L1240.6,162.5 L1245.3,160.2 L1250.1,158.0 L1254.9,155.8 L1259.7,153.7 L1264.5,151.6 L1269.4,149.5 L1274.3,147.5 L1279.3,145.5 L1284.2,143.5 L1289.2,141.6 L1294.2,139.7 L1299.3,137.9 L1304.3,136.0 L1309.4,134.3 L1314.5,132.5 L1319.7,130.8 L1324.8,129.2 L1330.0,127.5 L1335.2,125.9 L1340.4,124.4 L1345.6,122.9 L1350.9,121.4 L1356.1,119.9 L1361.4,118.5 L1366.7,117.1 L1372.0,115.8 L1377.3,114.5 L1382.6,113.2 L1387.9,111.9 L1393.3,110.7 L1398.6,109.5 L1404.0,108.4 L1409.4,107.3 L1414.7,106.2 L1420.1,105.1 L1425.5,104.1 L1430.9,103.1 L1436.3,102.2 L1441.7,101.3 L1447.0,100.4 L1452.4,99.5 L1457.8,98.7 L1463.2,97.9 L1468.6,97.1 L1473.9,96.4 L1479.3,95.7 L1484.6,95.0 L1490.0,94.3 L1495.3,93.7 L1500.6,93.1 L1505.9,92.5 L1511.1,92.0 L1516.3,91.4 L1521.6,90.9 L1526.7,90.4 L1531.9,90.0 L1537.0,89.5 L1542.1,89.1 L1547.2,88.7 L1552.2,88.4 L1557.2,88.0 L1562.2,87.7 L1567.1,87.4 L1572.0,87.1 L1576.8,86.8 L1581.6,86.5 L1586.3,86.3 L1591.0,86.0 L1595.7,85.8 L1600.2,85.6 L1604.8,85.4 L1609.3,85.3 L1613.7,85.1 L1618.0,84.9 L1622.3,84.8 L1626.6,84.7 L1630.7,84.6 L1634.9,84.5 L1638.9,84.4 L1642.9,84.3 L1646.8,84.2 L1650.6,84.1 L1654.3,84.1 L1658.0,84.0 L1661.6,84.0 L1665.1,83.9 L1668.5,83.9 L1671.9,83.9 L1675.1,83.8 L1678.3,83.8 L1681.4,83.8 L1684.4,83.8 L1687.3,83.8 L1690.1,83.8 L1692.8,83.7 L1695.4,83.7 L1697.9,83.7 L1700.3,83.7 L1702.7,83.7 L1704.9,83.7 L1707.0,83.7 L1709.1,83.7 L1711.1,83.7 L1713.0,83.6 L1714.8,83.6 L1716.6,83.6 L1718.2,83.6 L1719.8,83.6 L1721.3,83.6 L1722.8,83.6 L1724.1,83.6 L1725.4,83.6 L1726.7,83.6 L1727.8,83.6 L1728.9,83.6 L1730.0,83.6 L1731.0,83.6 L1731.9,83.5 L1732.8,83.5 L1733.6,83.5 L1734.4,83.5 L1735.1,83.5 L1735.7,83.5 L1736.4,83.5 L1736.9,83.5 L1737.5,83.5 L1737.9,83.5 L1738.4,83.5 L1738.8,83.5 L1739.2,83.5 L1739.5,83.5 L1739.8,83.5 L1740.1,83.5 L1740.3,83.5 L1740.5,83.5 L1740.7,83.5 L1740.9,83.5 L1741.0,83.5 L1741.1,83.5 L1741.2,83.5 L1741.3,83.5 L1741.4,83.5 L1741.4,83.5 L1741.4,83.5 L1741.5,83.5 L1741.5,83.5 L1741.5,83.5 L1741.5,83.5 L1741.5,83.5 L1741.5,83.5" stroke="#FF0080"/>
<rect x="403" y="1200" width="28" height="28" fill="#FF0080"/>
<rect x="546" y="1107" width="28" height="28" fill="#FF0080"/>
<rect x="693" y="946" width="28" height="28" fill="#FF0080"/>
<rect x="837" y="664" width="28" height="28" fill="#FF0080"/>
<rect x="983" y="398" width="28" height="28" fill="#FF0080"/>
<rect x="1130" y="169" width="28" height="29" fill="#FF0080"/>
<rect x="1428" y="71" width="28" height="28" fill="#FF0080"/>
<rect x="1727" y="69" width="29" height="29" fill="#FF0080"/>
</g>
<g fill="#000">
<path d="M265,1261 H239.5 L236.8,1263 V1264 L239.5,1266 H265 Z"/>
<path d="M265,1138.0 H251 L250,1139.0 V1143.0 L251,1144.0 H265 Z"/>
<path d="M265,1016.0 H239.5 L236.8,1018.4 V1019.6 L239.5,1022.0 H265 Z"/>
<path d="M265,894.0 H251 L250,895.0 V899.0 L251,900.0 H265 Z"/>
<path d="M265,772.0 H239.5 L236.8,774.4 V775.6 L239.5,778.0 H265 Z"/>
<path d="M265,650.0 H251 L250,651.0 V655.0 L251,656.0 H265 Z"/>
<path d="M265,528.0 H239.5 L236.8,530.4 V531.6 L239.5,534.0 H265 Z"/>
<path d="M265,406.0 H251 L250,407.0 V411.0 L251,412.0 H265 Z"/>
<path d="M265,284.0 H239.5 L236.8,286.4 V287.6 L239.5,290.0 H265 Z"/>
<path d="M265,162.0 H251 L250,163.0 V167.0 L251,168.0 H265 Z"/>
<path d="M265,40.0 H239.5 L236.8,42.4 V43.6 L239.5,46.0 H265 Z"/>
<path d="M262.0,1263.5 V1289.5 L264.4,1291.2 H265.6 L268.0,1289.5 V1263.5 Z"/>
<path d="M411.0,1263.5 V1277 L412.0,1278 H416.0 L417.0,1277 V1263.5 Z"/>
<path d="M561.0,1263.5 V1289.5 L563.4,1291.2 H564.6 L567.0,1289.5 V1263.5 Z"/>
<path d="M710.0,1263.5 V1277 L711.0,1278 H715.0 L716.0,1277 V1263.5 Z"/>
<path d="M860.0,1263.5 V1289.5 L862.4,1291.2 H863.6 L866.0,1289.5 V1263.5 Z"/>
<path d="M1010.0,1263.5 V1277 L1011.0,1278 H1015.0 L1016.0,1277 V1263.5 Z"/>
<path d="M1159.0,1263.5 V1289.5 L1161.4,1291.2 H1162.6 L1165.0,1289.5 V1263.5 Z"/>
<path d="M1309.0,1263.5 V1277 L1310.0,1278 H1314.0 L1315.0,1277 V1263.5 Z"/>
<path d="M1458.0,1263.5 V1289.5 L1460.4,1291.2 H1461.6 L1464.0,1289.5 V1263.5 Z"/>
<path d="M1608.0,1263.5 V1277 L1609.0,1278 H1613.0 L1614.0,1277 V1263.5 Z"/>
<path d="M1758,1263.5 V1289.5 L1760,1291.2 H1761 L1763,1289.5 V1263.5 Z"/>
<path d="M1907.0,1263.5 V1277 L1908.0,1278 H1912.0 L1913.0,1277 V1263.5 Z"/>
<rect x="262" y="40" width="1651" height="6"/>
<rect x="262" y="1261" width="1651" height="5"/>
<rect x="262" y="40" width="6" height="1226"/>
<rect x="1907" y="40" width="6" height="1226"/>
</g>
<g filter="url(#al)">
<text class="tick" transform="translate(225.0,1281.7) scale(1,1.02)" text-anchor="end">0</text>
<text class="tick" transform="translate(225.0,1037.6) scale(1,1.02)" text-anchor="end">20</text>
<text class="tick" transform="translate(225.0,793.5) scale(1,1.02)" text-anchor="end">40</text>
<text class="tick" transform="translate(225.0,549.4) scale(1,1.02)" text-anchor="end">60</text>
<text class="tick" transform="translate(225.0,305.3) scale(1,1.02)" text-anchor="end">80</text>
<text class="tick" transform="translate(225.0,61.2) scale(1,1.02)" text-anchor="end">100</text>
<text class="tick" transform="translate(265.6,1351.9) scale(1,1.02)" text-anchor="middle">200</text>
<text class="tick" transform="translate(564.7,1351.9) scale(1,1.02)" text-anchor="middle">300</text>
<text class="tick" transform="translate(863.8,1351.9) scale(1,1.02)" text-anchor="middle">400</text>
<text class="tick" transform="translate(1162.9,1351.9) scale(1,1.02)" text-anchor="middle">500</text>
<text class="tick" transform="translate(1462.0,1351.9) scale(1,1.02)" text-anchor="middle">600</text>
<text class="tick" transform="translate(1761.1,1351.9) scale(1,1.02)" text-anchor="middle">700</text>
<text class="title" x="1087.2" y="1461.8" text-anchor="middle">Temperature [°C]</text>
<text class="title" transform="translate(73,968.5) rotate(-90)" x="0" y="0">CH<tspan font-size="43" dy="26.7">4</tspan><tspan dy="-26.7"> Conversion [%]</tspan></text>
</g>
<line clip-path="url(#lg)" x1="1081" y1="947.8" x2="1194" y2="947.8" stroke="#000" stroke-width="4.2" stroke-linecap="round" stroke-dasharray="3 15"/>
<line x1="1079" y1="1008.4" x2="1118" y2="1008.4" stroke="#FF8000" stroke-width="3"/>
<line x1="1153" y1="1008.4" x2="1191" y2="1008.4" stroke="#FF8000" stroke-width="3"/>
<rect x="1121" y="994.2" width="28" height="28.5" fill="#FF8000"/>
<line x1="1079" y1="1085.2" x2="1118" y2="1085.2" stroke="#0000A0" stroke-width="3"/>
<line x1="1153" y1="1085.2" x2="1191" y2="1085.2" stroke="#0000A0" stroke-width="3"/>
<rect x="1121" y="1071.0" width="28" height="28.5" fill="#0000A0"/>
<line x1="1079" y1="1162.1" x2="1118" y2="1162.1" stroke="#FF0080" stroke-width="3"/>
<line x1="1153" y1="1162.1" x2="1191" y2="1162.1" stroke="#FF0080" stroke-width="3"/>
<rect x="1121" y="1147.9" width="28" height="28.5" fill="#FF0080"/>
<g filter="url(#al)">
<text class="leg" x="1203.9" y="964.9">Thermodynamic Equilibrium</text>
<text class="leg" x="1204.4" y="1024.2">GHSV= 25000 Nl/kg<tspan font-size="29" dy="20.3">cat</tspan><tspan dy="-20.3">/h</tspan></text>
<text class="leg" x="1204.4" y="1101.3">GHSV= 50000 Nl/kg<tspan font-size="29" dy="20.3">cat</tspan><tspan dy="-20.3">/h</tspan></text>
<text class="leg" x="1204.4" y="1178.4">GHSV=100000 Nl/kg<tspan font-size="29" dy="20.3">cat</tspan><tspan dy="-20.3">/h</tspan></text>
</g>
</svg>
</body></html>
